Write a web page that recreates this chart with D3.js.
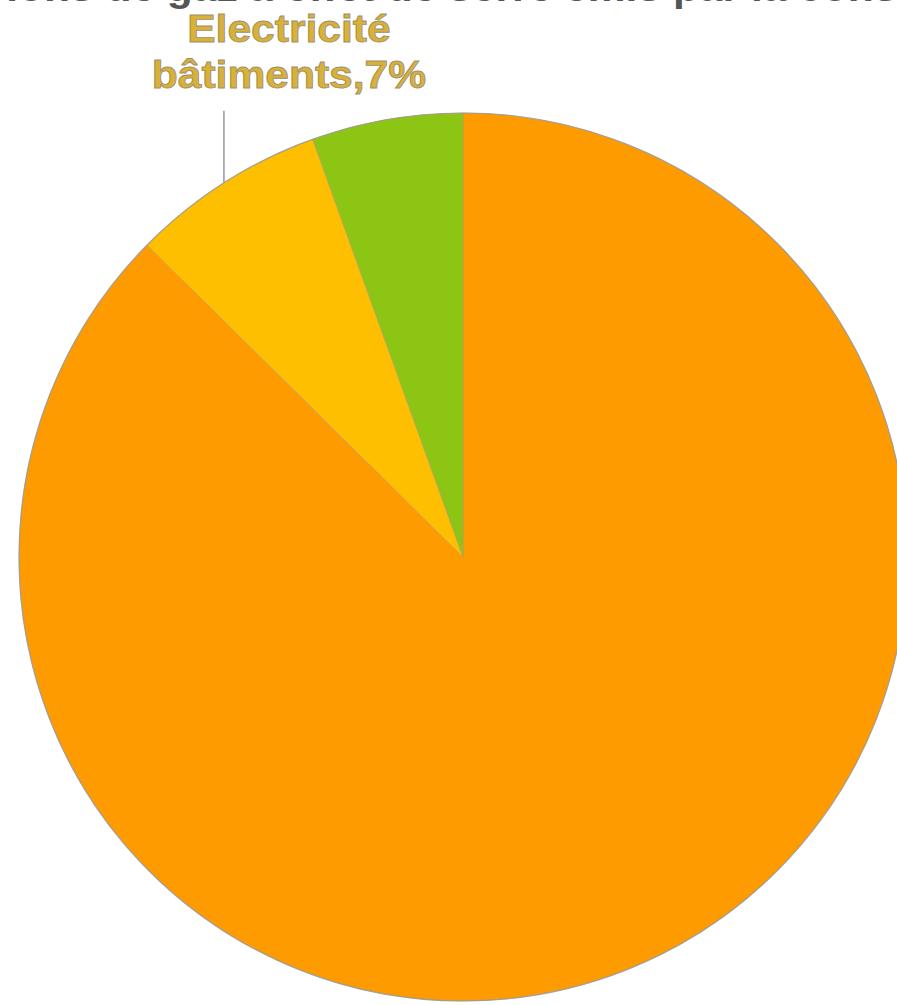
<!DOCTYPE html>
<html><head><meta charset="utf-8">
<script src="https://cdn.jsdelivr.net/npm/d3@7"></script>
<style>html,body{margin:0;padding:0;background:#fff;overflow:hidden}</style>
</head><body>
<svg id="c" width="897" height="1005"></svg>
<script>
const categories = ["Autres", "Electricité bâtiments", "Divers"];
const values = [87.4, 7.1, 5.5];
const colors = ["#FE9B00", "#FEBF00", "#8CC514"];
const labelLines = ["Electricité", "bâtiments,7%"];
const title = "Emissions de gaz à effet de serre émis par la consommation";

const svg = d3.select("#c");
const cx = 463, cy = 557, r = 444;

const pie = d3.pie().sort(null).value(d => d.v);
const arcs = pie(categories.map((c, i) => ({c, v: values[i], col: colors[i]})));
const arc = d3.arc().innerRadius(0).outerRadius(r);

const g = svg.append("g").attr("transform", `translate(${cx},${cy})`);
g.selectAll("path").data(arcs).join("path")
  .attr("d", arc)
  .attr("fill", d => d.data.col)
  .attr("stroke", "#b89a6a")
  .attr("stroke-width", 0.8)
  .attr("stroke-opacity", 0.7);
g.append("circle").attr("r", r).attr("fill", "none")
  .attr("stroke", "#999").attr("stroke-width", 1.2).attr("stroke-opacity", 0.8);

// leader line for label
const lab = arcs[1];
const mid = (lab.startAngle + lab.endAngle) / 2;
const ex = Math.sin(mid) * r, ey = -Math.cos(mid) * r;
g.append("line")
  .attr("x1", ex).attr("y1", ey)
  .attr("x2", ex).attr("y2", ey - 72)
  .attr("stroke", "#999").attr("stroke-width", 1.5);

// label
const lg = svg.append("g").attr("transform", `translate(${cx + ex + 65},0) scale(1.12,1)`);
lg.selectAll("text").data(labelLines).join("text")
  .attr("x", 0).attr("y", (d, i) => 42 + i * 46)
  .attr("text-anchor", "middle")
  .attr("font-family", "Liberation Sans, Arial, sans-serif")
  .attr("font-weight", "bold")
  .attr("font-size", 38)
  .attr("fill", "#D9B235")
  .attr("stroke", "#a09070").attr("stroke-width", 0.9)
  .text(d => d);

// title (cropped at top, as in the reference)
const tg = svg.append("g");
const tt = tg.append("text")
  .attr("x", 0).attr("y", 1)
  .attr("font-family", "Liberation Sans, Arial, sans-serif")
  .attr("font-weight", "bold")
  .attr("font-size", 38)
  .attr("fill", "#555")
  .text(title);
const off = tt.node().getSubStringLength(0, title.indexOf("gaz"));
tg.attr("transform", `translate(${167 - off * 1.12},0) scale(1.12,1)`);
</script>
</body></html>
